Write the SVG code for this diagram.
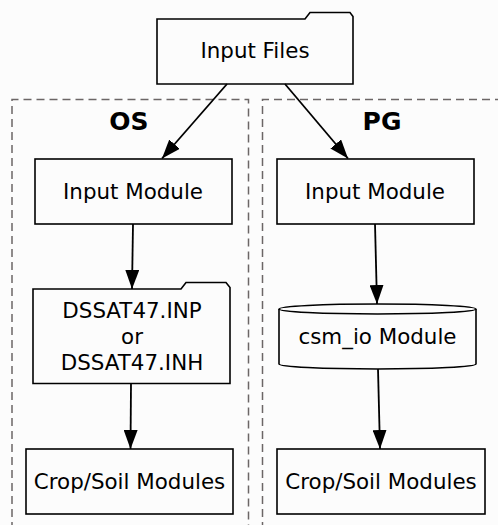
<svg xmlns="http://www.w3.org/2000/svg" width="498" height="525" viewBox="0 0 498 525">
<defs>
<style>
.bg{fill:#fcfcfc}
.cl{fill:none;stroke:#6b6666;stroke-width:1.5;stroke-dasharray:8,5}
.nd{fill:#fcfcfc;stroke:#000;stroke-width:1.6}
.tx{font-family:"DejaVu Sans",sans-serif;font-size:21.4px;fill:#000;text-anchor:middle}
.ct{font-family:"DejaVu Sans",sans-serif;font-size:25px;font-weight:bold;fill:#000;text-anchor:middle}
.ed{fill:none;stroke:#000;stroke-width:1.8}
</style>
<marker id="ah" markerWidth="19" markerHeight="14" viewBox="0 0 19 14" refX="19" refY="7" orient="auto" markerUnits="userSpaceOnUse">
<path d="M0,0 L19,7 L0,14 z" fill="#000"/>
</marker>
</defs>
<rect class="bg" x="0" y="0" width="498" height="525"/>
<g id="cluster_os">
<path class="cl" d="M12,530 V99.5 H248.5 V530"/>
<text class="ct" x="129" y="130">OS</text>
</g>
<g id="cluster_pg">
<path class="cl" d="M262.5,530 V99.5 H505"/>
<text class="ct" x="382" y="130">PG</text>
</g>
<g id="input_files">
<path class="nd" d="M157,19 H305 L310,12.5 H350 L353,16.5 V84 H157 Z"/>
<text class="tx" x="255" y="58">Input Files</text>
</g>
<g id="os_input">
<rect class="nd" x="35" y="159" width="197" height="65"/>
<text class="tx" x="133" y="199">Input Module</text>
</g>
<g id="pg_input">
<rect class="nd" x="277" y="159" width="197" height="65"/>
<text class="tx" x="375" y="199">Input Module</text>
</g>
<g id="dssat">
<path class="nd" d="M33,289 H181 L186,282.5 H226 L230,287.5 V383.5 H33 Z"/>
<text class="tx" x="132" y="318">DSSAT47.INP</text>
<text class="tx" x="132" y="344">or</text>
<text class="tx" x="132" y="370">DSSAT47.INH</text>
</g>
<g id="csm_io">
<path class="nd" d="M279,309 V364 A98.5,5 0 0 0 476,364 V309"/>
<ellipse class="nd" cx="377.5" cy="309" rx="98.5" ry="5"/>
<text class="tx" x="377.5" y="344">csm_io Module</text>
</g>
<g id="os_crop">
<rect class="nd" x="26" y="449" width="207" height="65"/>
<text class="tx" x="129.5" y="489">Crop/Soil Modules</text>
</g>
<g id="pg_crop">
<rect class="nd" x="277" y="449" width="208" height="65"/>
<text class="tx" x="381" y="489">Crop/Soil Modules</text>
</g>
<g id="edges">
<line class="ed" x1="227" y1="84" x2="162" y2="158.5" marker-end="url(#ah)"/>
<line class="ed" x1="285" y1="84" x2="348" y2="158.5" marker-end="url(#ah)"/>
<line class="ed" x1="133" y1="224" x2="132" y2="289" marker-end="url(#ah)"/>
<line class="ed" x1="375" y1="224" x2="377" y2="304" marker-end="url(#ah)"/>
<line class="ed" x1="131" y1="383.5" x2="130.5" y2="449" marker-end="url(#ah)"/>
<line class="ed" x1="378" y1="369" x2="380" y2="449" marker-end="url(#ah)"/>
</g>
</svg>
